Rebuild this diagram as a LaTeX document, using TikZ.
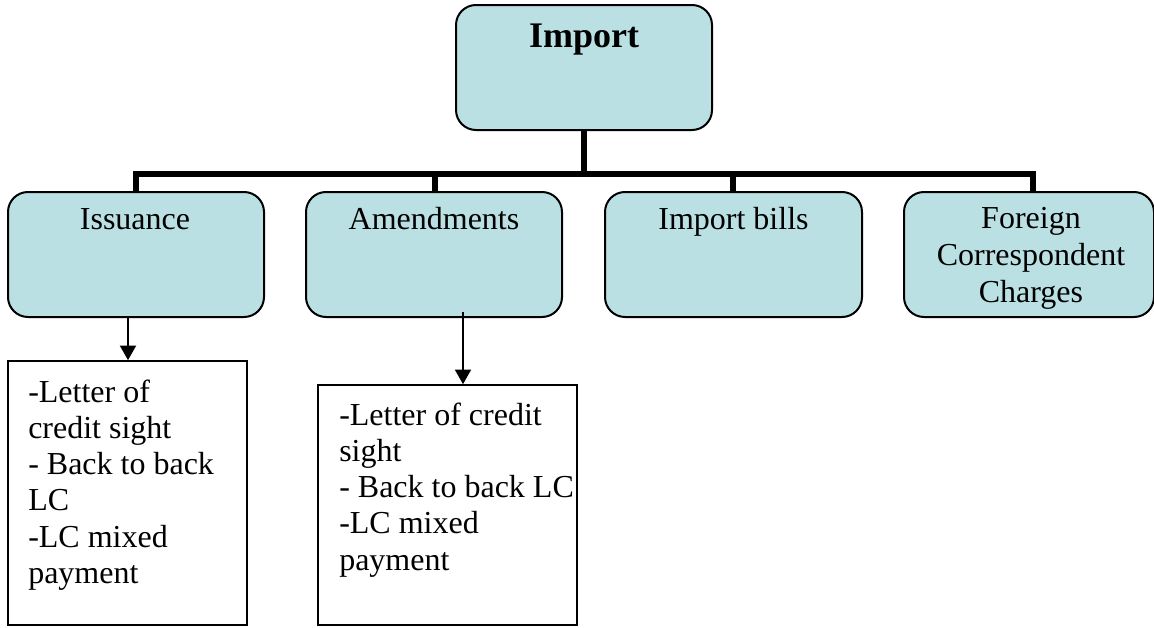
\documentclass[tikz,border=0pt]{standalone}
\usepackage{fontspec}
\setmainfont{Liberation Serif}
\usetikzlibrary{arrows.meta}
\definecolor{boxblue}{RGB}{187,224,227}
\tikzset{
  catbox/.style={draw=black, line width=1.5pt, fill=boxblue, rounded corners=15pt, inner sep=0pt},
  listbox/.style={draw=black, line width=1.2pt, fill=white, inner sep=0pt},
  lbl/.style={font=\fontsize{24pt}{27.75pt}\selectfont, inner sep=0pt},
  listtxt/.style={inner sep=0pt, anchor=base west},
  bus/.style={line width=4.5pt},
  arr/.style={line width=1.5pt, -{Triangle[width=12pt,length=11pt]}}
}
\newcommand{\listpar}[1]{\parbox[t]{200pt}{\fontsize{24pt}{27.2pt}\selectfont\raggedright #1}}
\begin{document}
\begin{tikzpicture}[x=0.75pt, y=-0.75pt]
\useasboundingbox (0,0) rectangle (1154,628);
% boxes
\node[catbox, minimum width=192pt, minimum height=93.75pt] (imp) at (584,67.5) {};
\node[catbox, minimum width=192pt, minimum height=93.75pt] (iss) at (136,254.5) {};
\node[catbox, minimum width=192pt, minimum height=93.75pt] (ame) at (434,254.5) {};
\node[catbox, minimum width=192.75pt, minimum height=93.75pt] (ibl) at (733.5,254.5) {};
\node[catbox, minimum width=187.5pt, minimum height=93.75pt] (fcc) at (1029,254.5) {};
% labels
\node[lbl, anchor=base, font=\fontsize{27pt}{30pt}\selectfont\bfseries] (timp) at (584,47) {Import};
\node[lbl, anchor=base] (tiss) at (135,229) {Issuance};
\node[lbl, anchor=base] (tame) at (434,229) {Amendments};
\node[lbl, anchor=base] (tibl) at (733.5,229) {Import bills};
\node[lbl, anchor=base] (tfcc) at (1031,228) {\parbox[t]{200pt}{\centering\fontsize{24pt}{27.75pt}\selectfont Foreign\\Correspondent\\Charges}};
% list boxes
\node[listbox, minimum width=179.25pt, minimum height=198pt] (l1) at (127.5,493) {};
\node[listbox, minimum width=194.25pt, minimum height=180pt] (l2) at (447.5,505) {};
\node[listtxt] (tl1) at (28,402) {\listpar{-Letter of\\credit sight\\- Back to back\\LC\\-LC mixed\\payment}};
\node[listtxt] (tl2) at (339,425) {\listpar{-Letter of credit\\sight\\- Back to back LC\\-LC mixed\\payment}};
% bus
\coordinate (b1) at (136,174);
\coordinate (b2) at (435,174);
\coordinate (b3) at (733,174);
\coordinate (b4) at (1033,174);
\coordinate (b0) at (584,174);
\coordinate (d4) at (1033,192);
\draw[bus] (imp.south) -- (b0);
\draw[bus, line cap=rect] (b1) -- (b4);
\draw[bus] (b1) -- (iss.north);
\draw[bus] (b2) -- (ame.north -| b2);
\draw[bus] (b3) -- (ibl.north -| b3);
\draw[bus] (b4) -- (d4);
% arrows
\coordinate (a1) at (128,317);
\coordinate (a2) at (463,312);
\draw[arr] (a1) -- (l1.north -| a1);
\draw[arr] (a2) -- (l2.north -| a2);
\end{tikzpicture}
\end{document}
